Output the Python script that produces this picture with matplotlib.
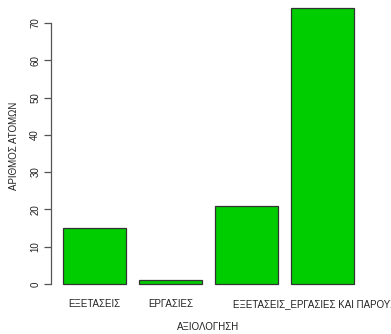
import matplotlib
matplotlib.use("Agg")
import matplotlib.pyplot as plt
import numpy as np

plt.rcParams['font.family'] = ['Liberation Sans', 'DejaVu Sans']

# data
categories = ["ΕΞΕΤΑΣΕΙΣ", "ΕΡΓΑΣΙΕΣ", "ΕΞΕΤΑΣΕΙΣ_ΕΡΓΑΣΙΕΣ",
              "ΕΞΕΤΑΣΕΙΣ_ΕΡΓΑΣΙΕΣ ΚΑΙ ΠΑΡΟΥΣΙΕΣ"]
counts = [15, 1, 21, 74]
# R hides the third label because it overlaps the fourth
shown_labels = ["ΕΞΕΤΑΣΕΙΣ", "ΕΡΓΑΣΙΕΣ", "", categories[3]]
yticks = [0, 10, 20, 30, 40, 50, 60, 70]

W, H = 391, 334
fig = plt.figure(figsize=(W / 100, H / 100), dpi=100)
# plot region in pixels (R barplot style)
left, right, top, bottom = 51.4, 365.6, -3.0, 295.0
ax = fig.add_axes([left / W, (H - bottom) / H, (right - left) / W, (bottom - top) / H])

x = 0.7 + 1.2 * np.arange(len(counts))
ax.bar(x, counts, width=1.0, color='#00CD00', edgecolor='#333333', linewidth=0.9)

ax.set_xlim(0.016, 4.984)
ax.set_ylim(-2.96, 76.96)

for s in ['top', 'right', 'bottom']:
    ax.spines[s].set_visible(False)
ax.spines['left'].set_bounds(0, 70)
ax.spines['left'].set_color('#555555')
ax.spines['left'].set_linewidth(0.9)

ax.set_yticks(yticks)
ax.set_yticklabels([str(v) for v in yticks], rotation=90, va='center',
                   fontsize=7, color='#222222')
ax.tick_params(axis='y', length=5, width=0.9, color='#555555', pad=3)

ax.set_xticks(x)
ax.set_xticklabels(shown_labels, fontsize=7, color='#222222')
ax.tick_params(axis='x', length=0, pad=3)

ax.set_ylabel("ΑΡΙΘΜΟΣ ΑΤΟΜΩΝ", fontsize=7, color='#222222', labelpad=8)
ax.set_xlabel("ΑΞΙΟΛΟΓΗΣΗ", fontsize=7, color='#222222', labelpad=9)

fig.savefig("out.png", dpi=100)
